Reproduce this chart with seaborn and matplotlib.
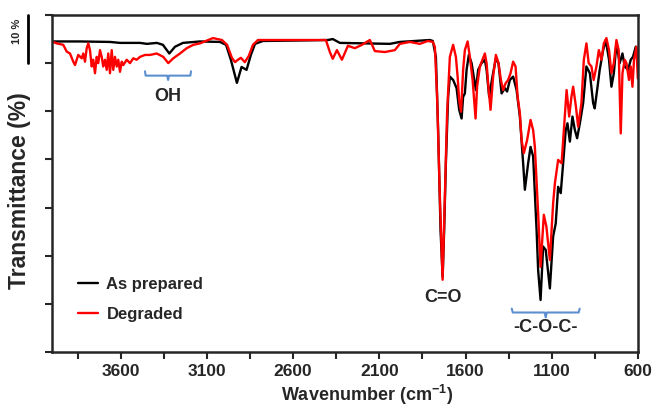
import numpy as np
import pandas as pd
import matplotlib.pyplot as plt
import matplotlib.lines as mlines
import seaborn as sns

# FTIR spectra (wavenumber in cm-1, transmittance in %)
wn_prepared = [4000, 3836, 3662, 3604, 3488, 3448, 3390, 3355, 3318, 3285, 3239, 3140, 3024,
               2989, 2961, 2926, 2899, 2870, 2845, 2821, 2775, 2561, 2398, 2370, 2329, 2039,
               1981, 1807, 1790, 1772, 1759, 1745, 1733, 1724, 1714, 1701, 1691, 1672, 1652,
               1637, 1623, 1614, 1604, 1594, 1581, 1565, 1540, 1527, 1507, 1488, 1478, 1463,
               1444, 1424, 1409, 1391, 1372, 1359, 1343, 1324, 1304, 1285, 1266, 1256, 1237,
               1223, 1208, 1188, 1179, 1165, 1150, 1135, 1111, 1092, 1077, 1063, 1048, 1034,
               1019, 1009, 995, 980, 966, 953, 937, 918, 899, 879, 860, 851, 837, 822, 802,
               787, 768, 754, 740, 725, 706, 690, 677, 657, 642, 629, 613, 605]
t_prepared = [94.5, 94.5, 94.4, 94.2, 94.2, 94.0, 94.2, 93.8, 92.0, 93.4, 94.2, 94.5, 94.4,
              93.8, 90.7, 85.9, 89.2, 88.6, 91.7, 94.0, 94.6, 94.7, 94.8, 95.0, 94.2, 94.0,
              94.4, 94.8, 94.6, 91.3, 76.1, 55.3, 45.6, 55.3, 69.3, 83.0, 87.2, 86.5, 84.8,
              80.3, 78.5, 83.0, 83.7, 88.6, 91.7, 90.0, 84.4, 88.6, 90.0, 90.7, 88.6, 83.0,
              87.2, 91.0, 90.0, 83.7, 84.8, 84.1, 86.5, 87.2, 84.4, 78.9, 69.2, 63.7, 69.2,
              72.6, 70.6, 55.3, 47.0, 40.8, 51.9, 51.2, 43.2, 54.0, 56.7, 64.3, 63.0, 69.2,
              76.1, 77.5, 73.7, 78.9, 76.1, 74.4, 77.5, 81.7, 89.3, 87.9, 81.7, 80.6, 84.4,
              88.6, 92.7, 94.8, 90.7, 85.1, 87.9, 94.1, 90.0, 92.0, 89.3, 88.6, 90.7, 91.3,
              93.4, 90.7]

wn_degraded = [4000, 3971, 3933, 3913, 3894, 3875, 3865, 3846, 3826, 3817, 3807, 3797, 3788,
               3778, 3768, 3759, 3749, 3739, 3730, 3720, 3710, 3701, 3691, 3681, 3672, 3662,
               3652, 3643, 3633, 3623, 3614, 3604, 3594, 3585, 3565, 3546, 3527, 3507, 3488,
               3459, 3430, 3391, 3353, 3324, 3295, 3256, 3217, 3179, 3140, 3065, 3013, 2983,
               2955, 2937, 2920, 2903, 2880, 2857, 2833, 2804, 2561, 2410, 2387, 2370, 2346,
               2317, 2282, 2242, 2201, 2155, 2126, 2068, 2010, 1981, 1923, 1865, 1819, 1790,
               1778, 1765, 1749, 1733, 1720, 1707, 1691, 1672, 1656, 1646, 1637, 1626, 1614,
               1604, 1588, 1575, 1559, 1542, 1533, 1517, 1488, 1478, 1469, 1455, 1440, 1424,
               1409, 1395, 1382, 1368, 1353, 1339, 1324, 1310, 1298, 1285, 1275, 1262, 1243,
               1223, 1208, 1198, 1179, 1165, 1146, 1131, 1111, 1092, 1082, 1063, 1043, 1030,
               1014, 999, 986, 976, 960, 947, 928, 914, 899, 886, 870, 857, 841, 827, 812,
               798, 783, 768, 754, 740, 725, 712, 700, 690, 677, 667, 652, 642, 632, 623,
               609, 601]
t_degraded = [94.5, 94.1, 93.8, 92.4, 92.0, 90.3, 89.6, 91.7, 91.0, 92.0, 90.3, 93.1, 94.1,
              92.7, 89.3, 90.7, 87.9, 91.3, 90.0, 92.7, 91.3, 89.3, 90.7, 88.6, 92.0, 87.9,
              92.7, 88.6, 91.3, 89.3, 90.7, 88.2, 90.3, 89.6, 90.7, 90.0, 91.0, 90.7, 91.3,
              91.7, 91.7, 92.0, 91.3, 90.0, 91.0, 92.0, 93.1, 93.8, 94.1, 95.2, 94.8, 93.8,
              91.1, 90.2, 90.7, 91.1, 90.2, 91.5, 93.8, 94.8, 94.8, 94.8, 92.3, 90.9, 92.7,
              90.7, 93.6, 93.1, 93.8, 94.8, 92.5, 92.3, 92.7, 94.0, 94.4, 94.0, 94.6, 94.4,
              93.4, 83.0, 62.3, 45.0, 62.3, 79.6, 91.3, 93.8, 91.3, 87.2, 82.3, 79.9, 88.6,
              92.7, 94.5, 91.3, 86.5, 78.5, 85.1, 89.3, 92.0, 90.0, 85.8, 80.3, 87.2, 91.7,
              90.0, 86.5, 84.4, 85.8, 86.5, 87.9, 90.3, 89.3, 83.0, 79.6, 74.0, 71.3, 74.0,
              78.2, 76.1, 72.6, 58.8, 47.7, 58.5, 56.0, 49.1, 60.9, 65.0, 69.9, 69.2, 76.1,
              84.4, 78.9, 83.0, 85.1, 81.0, 76.8, 81.7, 90.7, 94.1, 90.0, 89.3, 86.5, 89.3,
              92.7, 90.7, 94.1, 95.2, 92.7, 87.9, 90.0, 94.8, 92.7, 75.4, 87.9, 90.7, 90.0,
              86.5, 89.3, 85.1, 90.7, 93.4, 86.8]

samples = ['As prepared', 'Degraded']
colors = {'As prepared': 'black', 'Degraded': 'red'}
x_ticks = list(range(600, 4000, 250))
x_labels = ['600', '', '1100', '', '1600', '', '2100', '', '2600', '', '3100', '', '3600', '']
y_ticks = list(range(30, 101, 10))

df = pd.concat([
    pd.DataFrame({'Wavenumber': wn_prepared, 'T': t_prepared, 'Sample': samples[0]}),
    pd.DataFrame({'Wavenumber': wn_degraded, 'T': t_degraded, 'Sample': samples[1]}),
])

sns.set_style('ticks')
plt.rcParams['font.family'] = ['Liberation Sans', 'DejaVu Sans']
plt.rcParams['font.weight'] = 'bold'
plt.rcParams['mathtext.default'] = 'regular'

fig = plt.figure(figsize=(6.52, 4.08), dpi=100)
ax = fig.add_axes([0.0793, 0.1373, 0.8992, 0.826])

sns.lineplot(data=df, x='Wavenumber', y='T', hue='Sample', hue_order=samples,
             palette=colors, sort=False, estimator=None, lw=1.7, ax=ax)

ax.set_xlim(4000, 600)
ax.set_ylim(30, 100)
ax.set_xticks(x_ticks)
ax.set_xticklabels(x_labels, fontsize=12.5, fontweight='bold')
ax.set_yticks(y_ticks)
ax.set_yticklabels([])
ax.tick_params(axis='both', direction='out', length=5, width=1.5, pad=4)
for s in ax.spines.values():
    s.set_linewidth(1.8)

ax.set_xlabel('Wavenumber (cm$^{-1}$)', fontsize=13, fontweight='bold')
ax.xaxis.set_label_coords(0.538, -0.092)
ax.set_ylabel('Transmittance (%)', fontsize=16.5, fontweight='bold')
ax.yaxis.set_label_coords(-0.036, 0.48)

ax.legend(frameon=False, loc='upper left', bbox_to_anchor=(0.045, 0.222),
          prop={'size': 12, 'weight': 'bold'}, handlelength=1.2, handletextpad=0.5,
          labelspacing=0.9, borderpad=0, borderaxespad=0)

# peak annotations with blue braces
brace = '#5b8fd0'
ax.plot([3459, 3455, 3330, 3325, 3320, 3196, 3192],
        [88.3, 87.4, 87.4, 86.5, 87.4, 87.4, 88.3], color=brace, lw=1.5)
ax.text(3325, 83.0, 'OH', ha='center', va='center', fontsize=13, fontweight='bold')
ax.text(1732, 41.4, 'C=O', ha='center', va='center', fontsize=13, fontweight='bold')
ax.plot([1332, 1326, 1141, 1135, 1129, 944, 938],
        [39.0, 38.2, 38.2, 37.2, 38.2, 38.2, 39.0], color=brace, lw=1.5)
ax.text(1135, 35.0, '-C-O-C-', ha='center', va='center', fontsize=13, fontweight='bold')

# 10 % scale bar
fig.add_artist(mlines.Line2D([28 / 652, 28 / 652], [1 - 15 / 408, 1 - 63 / 408],
                             color='black', lw=2))
fig.text(17 / 652, 1 - 31 / 408, '10 %', rotation=90, ha='center', va='center',
         fontsize=8, fontweight='bold')

fig.savefig('out.png', dpi=100)
